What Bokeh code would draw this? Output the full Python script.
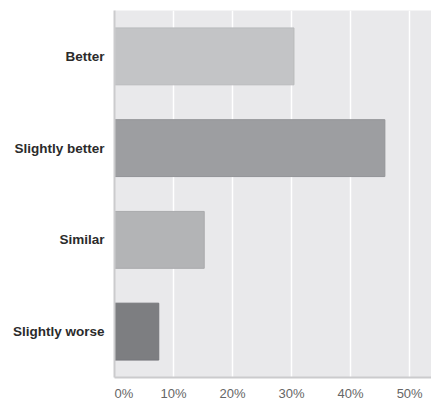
from bokeh.plotting import figure
from bokeh.models import FactorRange, Range1d, FixedTicker, ColumnDataSource
from bokeh.embed import file_html
from bokeh.resources import INLINE

# Survey answers and their share of respondents (%)
categories = ["Better", "Slightly better", "Similar", "Slightly worse"]
shares = [30.4, 45.8, 15.2, 7.5]
bar_colors = ["#c3c4c6", "#9d9ea1", "#b3b4b6", "#7d7e81"]
bar_edges = ["#b9babc", "#939497", "#a9aaac", "#75767a"]
tick_values = [0, 10, 20, 30, 40, 50]
tick_labels = ["0%", "10%", "20%", "30%", "40%", "50%"]

source = ColumnDataSource(dict(cat=categories, share=shares,
                               fill=bar_colors, edge=bar_edges))

p = figure(
    width=431, height=405,
    y_range=FactorRange(factors=categories[::-1]),
    x_range=Range1d(0, 53.7),
    output_backend="svg", toolbar_location=None,
    min_border_left=114, min_border_right=0,
    min_border_top=10, min_border_bottom=28,
)
p.outline_line_color = None
p.background_fill_color = "#e9e9eb"
p.border_fill_color = "white"

p.hbar(y="cat", left=0, right="share", height=0.62, source=source,
       fill_color="fill", line_color="edge", line_width=1)

# vertical white grid every 10%
p.xgrid.ticker = FixedTicker(ticks=tick_values)
p.xgrid.grid_line_color = "white"
p.xgrid.grid_line_width = 1.5
p.ygrid.grid_line_color = None

# bottom axis: the first label sits just right of the origin
label_pos = [1.6] + tick_values[1:]
p.xaxis.ticker = FixedTicker(ticks=label_pos)
p.xaxis.major_label_overrides = {pos: t for pos, t in zip(label_pos, tick_labels)}
p.xaxis.axis_line_color = "#cbcbcd"
p.xaxis.axis_line_width = 2
p.xaxis.major_tick_line_color = None
p.xaxis.minor_tick_line_color = None
p.xaxis.major_tick_out = 0
p.xaxis.major_label_standoff = 8
p.xaxis.major_label_text_font = "Liberation Sans"
p.xaxis.major_label_text_font_size = "13px"
p.xaxis.major_label_text_color = "#666666"

# category axis
p.yaxis.axis_line_color = "#cbcbcd"
p.yaxis.axis_line_width = 2
p.yaxis.major_tick_line_color = None
p.yaxis.minor_tick_line_color = None
p.yaxis.major_tick_out = 0
p.yaxis.major_label_standoff = 10
p.yaxis.major_label_text_font = "Liberation Sans"
p.yaxis.major_label_text_font_style = "bold"
p.yaxis.major_label_text_font_size = "13.5px"
p.yaxis.major_label_text_color = "#2b2b2b"

open("out.html", "w").write(file_html(p, INLINE))
